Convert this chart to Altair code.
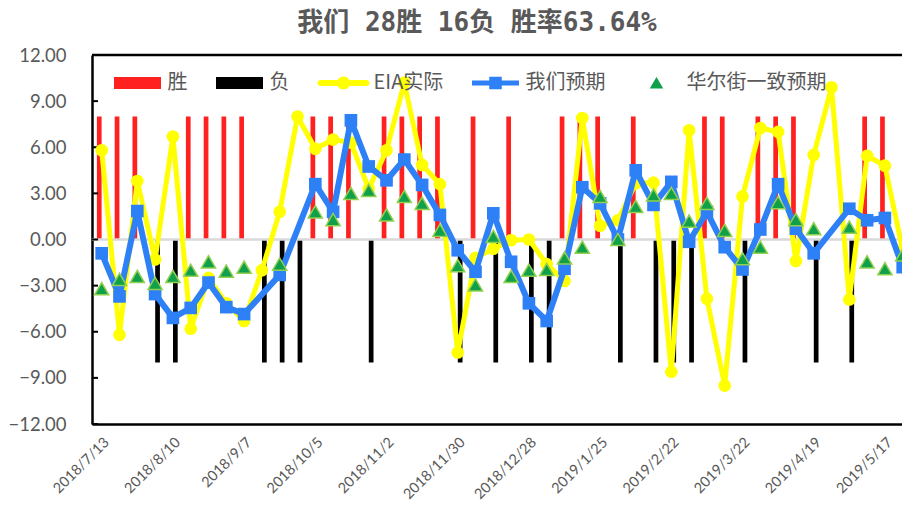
import altair as alt
import pandas as pd

TITLE = "我们 28胜 16负 胜率63.64%"
TICK_LABELS = ["2018/7/13", "2018/8/10", "2018/9/7", "2018/10/5", "2018/11/2", "2018/11/30",
               "2018/12/28", "2019/1/25", "2019/2/22", "2019/3/22", "2019/4/19", "2019/5/17"]
TICK_STEP = 4
Y_TICKS = [-12, -9, -6, -3, 0, 3, 6, 9, 12]
BAR_HEIGHT = 8

EIA = [5.8, -6.2, 3.8, -1.3, 6.7, -5.8, -2.5, -4.15, -5.3, -2.0,
       1.8, 8.0, 5.9, 6.5, 6.3, 3.3, 5.8, 10.2, 4.85, 3.6,
       -7.35, -1.2, -0.6, -0.05, 0.0, -1.6, -2.7, 7.9, 0.9, 1.25,
       3.65, 3.7, -8.6, 7.1, -3.85, -9.5, 2.8, 7.25, 7.0, -1.4,
       5.5, 9.9, -3.9, 5.45, 4.8, -0.7, 10.4]
OURS = [-0.9, -3.7, 1.85, -3.55, -5.1, -4.45, -2.8, -4.4, -4.85, None,
        -2.3, None, 3.6, 1.8, 7.75, 4.75, 3.85, 5.2, 3.55, 1.6,
        -0.7, -2.1, 1.7, -1.45, -4.15, -5.3, -1.9, 3.4, 2.35, 0.0,
        4.5, 2.25, 3.75, -0.15, 1.8, -0.5, -1.95, 0.65, 3.6, 0.7,
        -0.9, None, 2.0, 1.25, 1.4, -1.8, 1.0]
WALLST = [-3.2, -2.6, -2.4, -2.85, -2.4, -2.0, -1.45, -2.05, -1.8, None,
          -1.6, None, 1.8, 1.3, 3.0, 3.2, 1.6, 2.8, 2.35, 0.6,
          -1.7, -2.95, 0.2, -2.4, -2.0, -1.95, -1.2, -0.5, 2.8, 0.0,
          2.15, 2.9, 3.0, 1.2, 2.35, 0.6, -1.25, -0.5, 2.4, 1.3,
          0.7, None, 0.8, -1.45, -1.9, -1.0, None]
RESULT = ["胜", "胜", "胜", "负", "负", "胜", "胜", "胜", "胜", "负",
          "负", "负", "胜", "胜", "胜", "负", "胜", "胜", "胜", "胜",
          "负", "胜", "负", "胜", "负", "负", "胜", "胜", "胜", "负",
          "胜", "负", "负", "负", "胜", "胜", "负", "胜", "胜", "胜",
          "负", None, "负", "胜", "胜", "负", None]

SERIES = ["胜", "负", "EIA实际", "我们预期", "华尔街一致预期"]
COLORS = ["#FF2020", "#000000", "#FFFF00", "#2E80F6", "#10A04A"]
LEGEND_PATHS = [
    "M-0.94,-0.24 L0.94,-0.24 L0.94,0.24 L-0.94,0.24 Z",
    "M-0.94,-0.24 L0.94,-0.24 L0.94,0.24 L-0.94,0.24 Z",
    "M-0.92,-0.12 L0.92,-0.12 A0.12,0.12 0 0 1 0.92,0.12 L-0.92,0.12 A0.12,0.12 0 0 1 -0.92,-0.12 Z "
    "M-0.26,0 A0.26,0.26 0 1 1 0.26,0 A0.26,0.26 0 1 1 -0.26,0 Z",
    "M-0.94,-0.1 L0.94,-0.1 L0.94,0.1 L-0.94,0.1 Z M-0.25,-0.25 L0.25,-0.25 L0.25,0.25 L-0.25,0.25 Z",
    "M0,-0.24 L0.27,0.22 L-0.27,0.22 Z",
]

df = pd.DataFrame({"week": list(range(len(EIA))), "eia": EIA, "ours": OURS,
                   "wallst": WALLST, "result": RESULT})

GRAY = "#595959"
xs = alt.Scale(domain=[-0.545, 44.96], nice=False, zero=False)
ys = alt.Scale(domain=[-12, 12], nice=False, zero=False)

label_expr = "[" + ",".join("'%s'" % t for t in TICK_LABELS) + "][round(datum.value/%d)]" % TICK_STEP
x_axis = alt.Axis(values=[i * TICK_STEP for i in range(len(TICK_LABELS))], labelExpr=label_expr,
                  labelAngle=-45, ticks=False, grid=False, domainColor="black", domainWidth=2.5,
                  labelFont="Lato", labelFontSize=14.5, labelColor=GRAY, labelPadding=11, title=None,
                  labelOverlap=False)
y_axis = alt.Axis(values=Y_TICKS, format=".2f", ticks=False, grid=False, domainColor="black",
                  domainWidth=2.5, labelFont="Lato", labelFontSize=18.5, labelColor=GRAY,
                  labelPadding=26, title=None)


def X(field):
    return alt.X(field, type="quantitative", scale=xs, axis=x_axis)


def Y(field):
    return alt.Y(field, type="quantitative", scale=ys, axis=y_axis)


base = alt.Chart(df)

wins = base.transform_filter("datum.result === '胜'").transform_calculate(
    x0="datum.week - 0.27", x1="datum.week - 0.005", bar=str(BAR_HEIGHT)
).mark_bar(color="#FF2020").encode(x=X("x0"), x2="x1:Q", y=Y("bar"), y2=alt.datum(0))

losses = base.transform_filter("datum.result === '负'").transform_calculate(
    x0="datum.week + 0.005", x1="datum.week + 0.27", bar=str(-BAR_HEIGHT)
).mark_bar(color="#000000").encode(x=X("x0"), x2="x1:Q", y=Y("bar"), y2=alt.datum(0))

zero_line = alt.Chart(pd.DataFrame({"v": [0]})).mark_rule(color="#D9D9D9", strokeWidth=2.5).encode(y=Y("v"))
top_line = alt.Chart(pd.DataFrame({"v": [max(Y_TICKS)]})).mark_rule(color="black", strokeWidth=2.5).encode(y=Y("v"))
inner_ticks = alt.Chart(pd.DataFrame({"v": Y_TICKS})).mark_rule(color="black", strokeWidth=2).encode(
    y=Y("v"), x=alt.value(0), x2=alt.value(6))

eia = base.transform_filter("isValid(datum.eia)")
eia_line = eia.mark_line(color="#FFFF00", strokeWidth=5, clip=True, strokeJoin="round").encode(x=X("week"), y=Y("eia"))
eia_pts = eia.mark_point(filled=True, shape="circle", size=160, color="#FFFF00", opacity=1).encode(
    x=X("week"), y=Y("eia"))

ours = base.transform_filter("isValid(datum.ours)")
ours_line = ours.mark_line(color="#2E80F6", strokeWidth=6, clip=True, strokeJoin="round").encode(x=X("week"), y=Y("ours"))
ours_pts = ours.mark_point(filled=True, shape="square", size=160, color="#2E80F6", opacity=1).encode(
    x=X("week"), y=Y("ours"))

ws = base.transform_filter("isValid(datum.wallst)")
ws_pts = ws.mark_point(filled=True, shape="triangle-up", size=200, fill="#10A04A", stroke="#92D050",
                       strokeWidth=1.5, opacity=1).encode(x=X("week"), y=Y("wallst"))

legend_props = dict(orient="none", legendX=19.5, legendY=2, direction="horizontal", columns=5,
                    symbolSize=2500, labelFont="Noto Sans CJK SC", labelFontSize=20, labelColor=GRAY,
                    labelOffset=4, columnPadding=25, padding=0, title=None, labelLimit=300,
                    symbolOpacity=1, symbolStrokeWidth=1.5,
                    symbolStrokeColor=alt.ExprRef(
                        expr="datum.value === '华尔街一致预期' ? '#92D050' : 'transparent'"))
leg_df = pd.DataFrame({"series": SERIES})
legend_layer = alt.Chart(leg_df).mark_point(filled=True, opacity=0).encode(
    x=alt.X(datum=0, scale=xs, axis=x_axis),
    y=alt.Y(datum=0, scale=ys, axis=y_axis),
    color=alt.Color("series:N", scale=alt.Scale(domain=SERIES, range=COLORS), legend=alt.Legend(**legend_props)),
    shape=alt.Shape("series:N", scale=alt.Scale(domain=SERIES, range=LEGEND_PATHS), legend=alt.Legend(**legend_props)),
)

chart = alt.layer(
    wins, losses, zero_line, top_line, inner_ticks, eia_line, eia_pts, ours_line, ours_pts, ws_pts, legend_layer
).properties(
    width=810, height=369,
    title=alt.TitleParams(TITLE, font="'DejaVu Sans Mono', 'Noto Sans CJK SC'", fontSize=26, fontWeight="bold",
                          color=GRAY, anchor="middle", frame="group", dx=-20, offset=10),
    autosize=alt.AutoSizeParams(type="none"),
    padding={"left": 84, "top": 47, "right": 0, "bottom": 80},
).configure_view(stroke=None).configure(background="white")

chart.save("out.html", embed_options={"renderer": "svg", "actions": False})
